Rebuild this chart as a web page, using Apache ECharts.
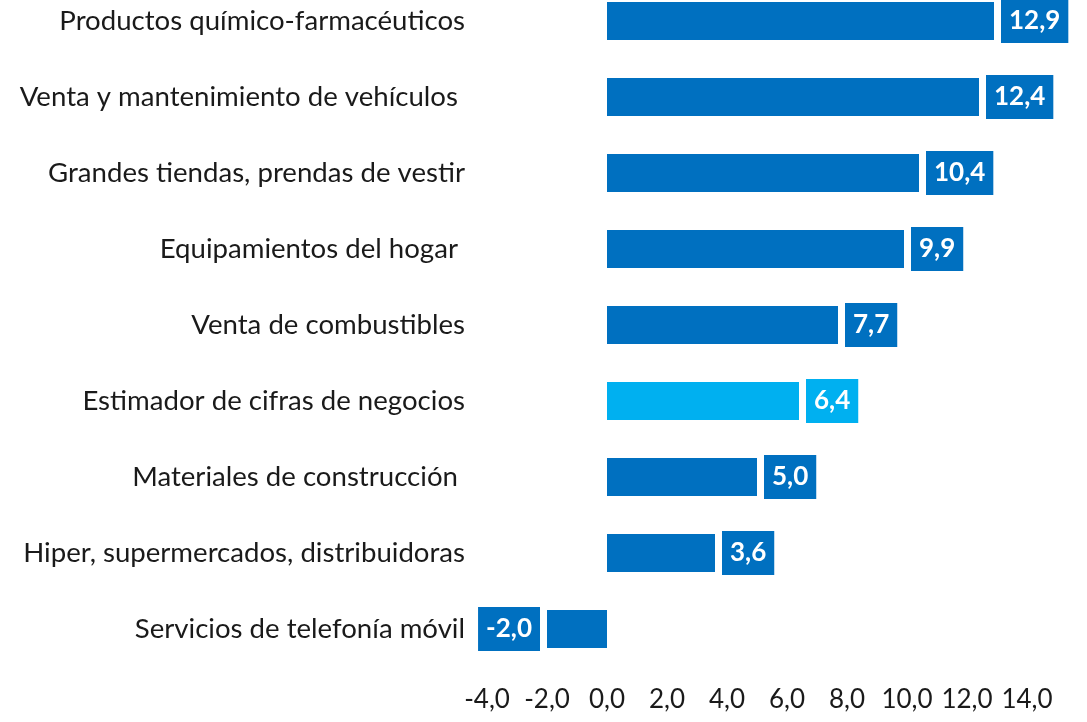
<!DOCTYPE html>
<html>
<head>
<meta charset="utf-8">
<script src="https://cdn.jsdelivr.net/npm/echarts@6/dist/echarts.min.js"></script>
<style>
  html, body { margin: 0; padding: 0; background: #fff; overflow: hidden; }
  /* subido 17px: la primera barra queda pegada al borde superior como en el original */
  #main { width: 1087px; height: 739px; margin-top: -17px; }
</style>
</head>
<body>
<div id="main"></div>
<script>
var myChart = echarts.init(document.getElementById('main'));

// sectores, de arriba abajo (los espacios finales vienen del original)
var sectores = [
  'Productos químico-farmacéuticos',
  'Venta y mantenimiento de vehículos ',
  'Grandes tiendas, prendas de vestir',
  'Equipamientos del hogar ',
  'Venta de combustibles',
  'Estimador de cifras de negocios',
  'Materiales de construcción ',
  'Hiper, supermercados, distribuidoras',
  'Servicios de telefonía móvil'
];
var variacion = [12.9, 12.4, 10.4, 9.9, 7.7, 6.4, 5.0, 3.6, -2.0];
var destacado = 'Estimador de cifras de negocios';

var azul = '#0070C0';
var azulClaro = '#00B0F0';

function coma(v) {
  return v.toFixed(1).replace('.', ',');
}

var font = 'Lato, "Open Sans", sans-serif';

myChart.setOption({
  animation: false,
  grid: { left: 487, right: 60, top: 0, bottom: 55, containLabel: false },
  xAxis: {
    type: 'value',
    min: -4, max: 14, interval: 2,
    axisLine: { show: false },
    axisTick: { show: false },
    splitLine: { show: false },
    axisLabel: {
      margin: 20,
      color: '#1a1a1a',
      fontFamily: font,
      fontSize: 26,
      formatter: function (v) { return coma(v); }
    }
  },
  yAxis: {
    type: 'category',
    inverse: true,
    data: sectores,
    axisLine: { show: false },
    axisTick: { show: false },
    axisLabel: {
      margin: 22,
      color: '#1a1a1a',
      fontFamily: font,
      fontSize: 27.6
    }
  },
  series: [{
    type: 'bar',
    barWidth: 38,
    data: variacion.map(function (v, i) {
      var c = sectores[i] === destacado ? azulClaro : azul;
      return {
        value: v,
        itemStyle: { color: c },
        label: {
          show: true,
          position: v < 0 ? 'left' : 'right',
          distance: 7,
          backgroundColor: c,
          color: '#fff',
          fontWeight: 'bold',
          fontFamily: font,
          fontSize: 26,
          lineHeight: 30,
          padding: [7, 8, 7, 8],
          formatter: function (p) { return coma(p.value); }
        }
      };
    })
  }]
});
</script>
</body>
</html>
